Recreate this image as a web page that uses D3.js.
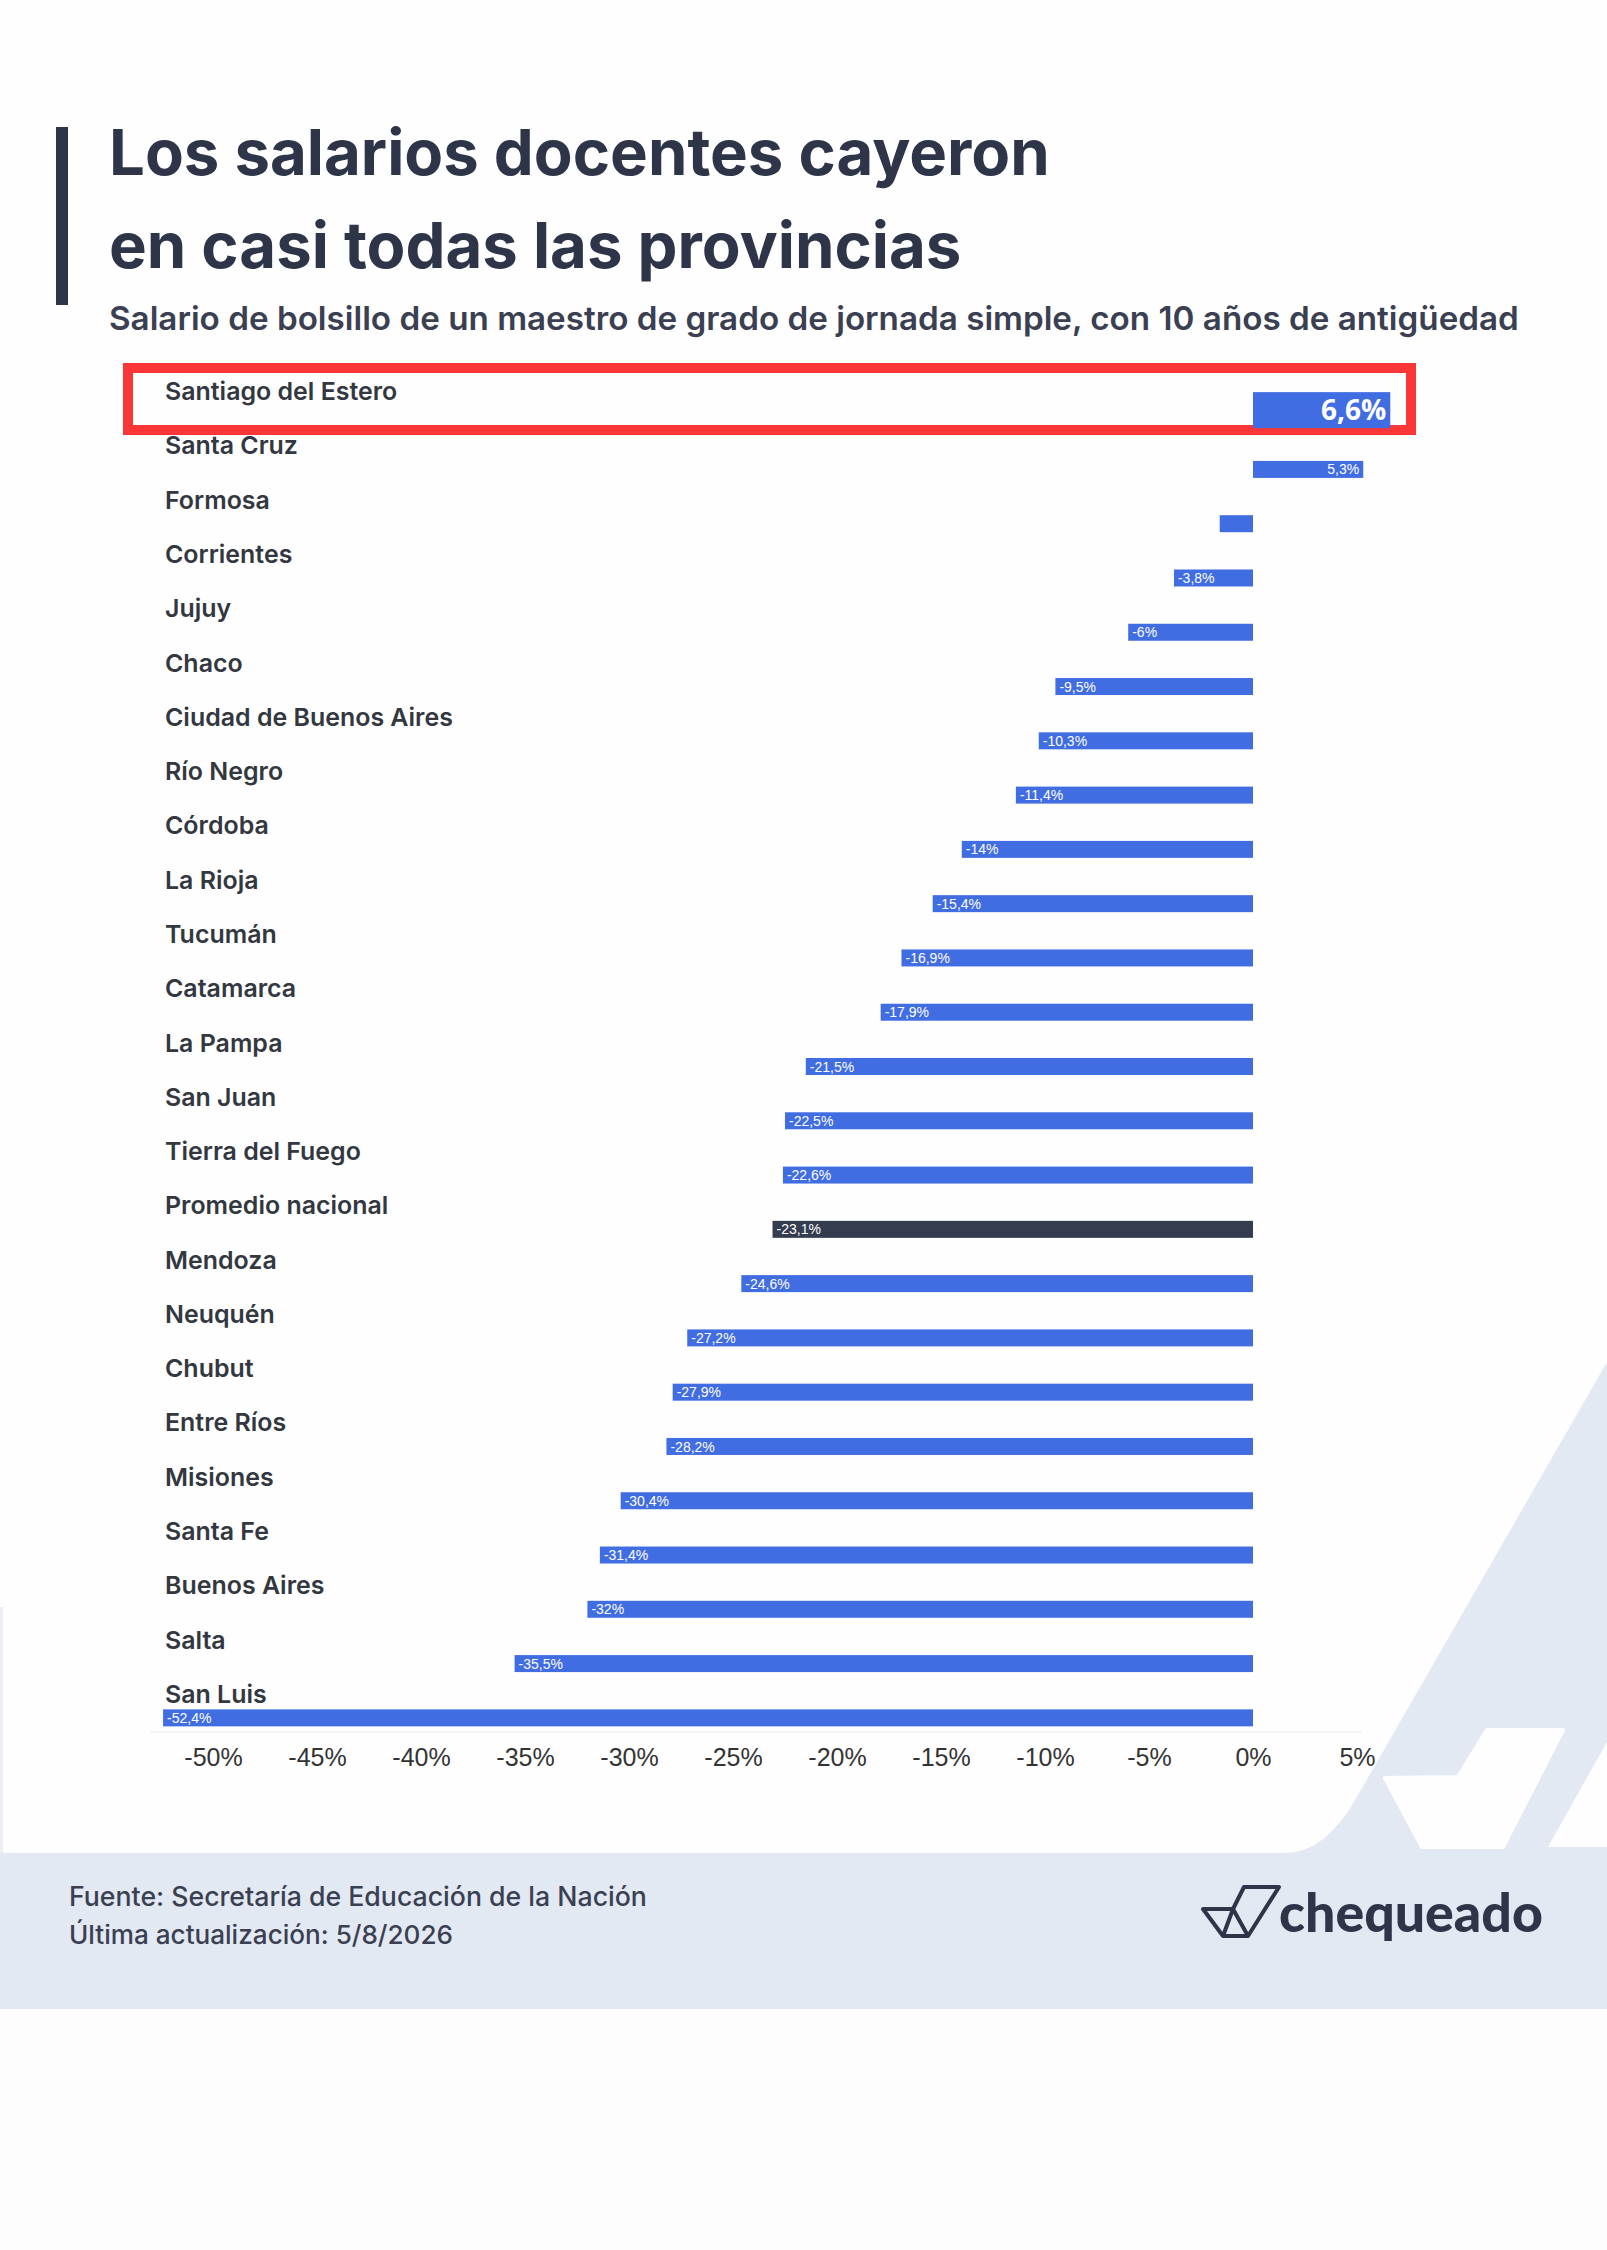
<!DOCTYPE html>
<html>
<head>
<meta charset="utf-8">
<script src="https://cdn.jsdelivr.net/npm/d3@7.9.0/dist/d3.min.js"></script>
<style>
  body { margin: 0; background: #fdfdfd; }
  svg { display: block; }
</style>
</head>
<body>
<div id="chart"></div>
<script>
// provinces, top to bottom
const provinces = [
  "Santiago del Estero", "Santa Cruz", "Formosa", "Corrientes", "Jujuy", "Chaco",
  "Ciudad de Buenos Aires", "Río Negro", "Córdoba", "La Rioja", "Tucumán", "Catamarca",
  "La Pampa", "San Juan", "Tierra del Fuego", "Promedio nacional", "Mendoza", "Neuquén",
  "Chubut", "Entre Ríos", "Misiones", "Santa Fe", "Buenos Aires", "Salta", "San Luis"
];
// real change of the teacher salary, %
const changes = [
  6.6, 5.3, -1.6, -3.8, -6, -9.5,
  -10.3, -11.4, -14, -15.4, -16.9, -17.9,
  -21.5, -22.5, -22.6, -23.1, -24.6, -27.2,
  -27.9, -28.2, -30.4, -31.4, -32, -35.5, -52.4
];
const xTicks = [-50, -45, -40, -35, -30, -25, -20, -15, -10, -5, 0, 5];
const highlighted = "Santiago del Estero";
const average = "Promedio nacional";

const titleLines = ["Los salarios docentes cayeron", "en casi todas las provincias"];
const subtitle = "Salario de bolsillo de un maestro de grado de jornada simple, con 10 años de antigüedad";
const footerLines = ["Fuente: Secretaría de Educación de la Nación", "Última actualización: 5/8/2026"];

const data = provinces.map((p, i) => ({ name: p, value: changes[i] }));

const W = 1607, H = 2250;
const ink = "#2f3548", blue = "#416de3", light = "#e3e9f3";

const svg = d3.select("#chart").append("svg")
  .attr("width", W).attr("height", H);

// shrink/grow a text so it spans a given width
function fit(sel, width) {
  const node = sel.node();
  const size = parseFloat(sel.attr("font-size"));
  const len = node.getComputedTextLength();
  sel.attr("font-size", (size * width / len).toFixed(2));
}

// background: light band + white card with a diagonal cut
svg.append("rect").attr("width", W).attr("height", H).attr("fill", "#fdfdfd");
svg.append("rect").attr("width", W).attr("height", 2009).attr("fill", light);
svg.append("path")
  .attr("d", "M0,0 H1607 V1362 L1358,1795 Q1326,1853 1285,1853 H0 Z")
  .attr("fill", "#fefefe");
svg.append("rect").attr("x", 0).attr("y", 1607).attr("width", 3).attr("height", 246).attr("fill", "#e9edf4");
// watermark check shapes
svg.append("path")
  .attr("d", "M1385,1778 L1458,1777 L1487,1730 L1563,1730 L1503,1847 L1422,1847 Z")
  .attr("fill", "#fefefe").attr("stroke", "#fefefe").attr("stroke-width", 4).attr("stroke-linejoin", "round");
svg.append("path")
  .attr("d", "M1548,1847 L1607,1847 L1607,1742 Z")
  .attr("fill", "#fefefe");

// title block
svg.append("rect").attr("x", 56).attr("y", 127).attr("width", 12).attr("height", 178).attr("fill", ink);
const t1 = svg.append("text").attr("x", 109).attr("y", 175)
  .attr("font-family", "Inter, sans-serif").attr("font-weight", 700).attr("font-size", 60)
  .attr("fill", ink).text(titleLines[0]);
fit(t1, 941);
svg.append("text").attr("x", 109).attr("y", 268)
  .attr("font-family", "Inter, sans-serif").attr("font-weight", 700).attr("font-size", t1.attr("font-size"))
  .attr("fill", ink).text(titleLines[1]);
const st = svg.append("text").attr("x", 109).attr("y", 330)
  .attr("font-family", "Inter, sans-serif").attr("font-weight", 600).attr("font-size", 30)
  .attr("fill", "#3a4052").text(subtitle);
fit(st, 1410);

// scales
const x = d3.scaleLinear().domain([-50, 5]).range([213, 1357]);
const y = d3.scaleBand().domain(provinces).range([388, 1745])
  .paddingInner(0.687).paddingOuter(0.3435);
const bw = y.bandwidth();

// highlight frame
svg.append("rect").attr("x", 128).attr("y", 368).attr("width", 1283).attr("height", 62)
  .attr("fill", "none").attr("stroke", "#fb3636").attr("stroke-width", 10);

// faint baseline
svg.append("line").attr("x1", 150).attr("x2", 1362).attr("y1", 1732).attr("y2", 1732)
  .attr("stroke", "#f4f5f7").attr("stroke-width", 2);

// category labels
const labels = svg.append("g").selectAll("text")
  .data(data).enter().append("text")
  .attr("x", 165)
  .attr("y", d => y(d.name) + bw / 2 - 15)
  .attr("font-family", "Inter, sans-serif").attr("font-weight", 600).attr("font-size", 24)
  .attr("fill", "#333740")
  .text(d => d.name);
const ref = labels.filter(d => d.name === "Ciudad de Buenos Aires");
fit(ref, 288);
labels.attr("font-size", ref.attr("font-size"));

// bars
const barTop = d => d.name === highlighted ? y(d.name) + bw / 2 - 23 : y(d.name);
const barH = d => d.name === highlighted ? 36 : bw;
svg.append("g").selectAll("rect")
  .data(data).enter().append("rect")
  .attr("x", d => x(Math.min(0, d.value)))
  .attr("y", barTop)
  .attr("width", d => Math.abs(x(d.value) - x(0)))
  .attr("height", barH)
  .attr("fill", d => d.name === average ? "#343c50" : blue);

// value labels inside the bars
const fmt = v => String(v).replace(".", ",") + "%";
svg.append("g").selectAll("text")
  .data(data.filter(d => Math.abs(x(d.value) - x(0)) > 40)).enter().append("text")
  .attr("x", d => d.value < 0 ? x(d.value) + 4 : x(d.value) - 4)
  .attr("y", d => barTop(d) + barH(d) / 2)
  .attr("dy", "0.36em")
  .attr("text-anchor", d => d.value < 0 ? "start" : "end")
  .attr("font-family", d => d.name === highlighted ? "'Open Sans', sans-serif" : "'Liberation Sans', Arial, sans-serif")
  .attr("font-weight", d => d.name === highlighted ? 700 : 400)
  .attr("font-size", d => d.name === highlighted ? 28 : 14)
  .attr("fill", "#ffffff")
  .text(d => fmt(d.value));

// x axis
const axis = svg.append("g")
  .attr("transform", "translate(0,1735)")
  .call(d3.axisBottom(x).tickValues(xTicks).tickSize(0).tickPadding(13).tickFormat(d => d + "%"));
axis.select(".domain").remove();
axis.selectAll("text")
  .attr("font-family", "'Liberation Sans', Arial, sans-serif")
  .attr("font-size", 25)
  .attr("fill", "#333");

// footer
footerLines.forEach((line, i) => {
  const ft = svg.append("text").attr("x", 69).attr("y", 1906 + i * 38)
    .attr("font-family", "Inter, sans-serif").attr("font-weight", 500).attr("font-size", 26)
    .attr("fill", "#3a4052").text(line);
  fit(ft, i === 0 ? 578 : 384);
});

// logo
const logo = svg.append("g").attr("fill", "none").attr("stroke", ink)
  .attr("stroke-width", 4).attr("stroke-linejoin", "round");
logo.append("path").attr("d", "M1203,1909 L1233,1909 L1244,1887 L1279,1887 L1248,1936 L1223,1936 Z");
logo.append("path").attr("d", "M1233,1909 L1223,1936 M1233,1909 L1248,1936");
const lt = svg.append("text").attr("x", 1279).attr("y", 1932)
  .attr("font-family", "Lato, sans-serif").attr("font-weight", 900).attr("font-size", 50)
  .attr("fill", ink).text("chequeado");
fit(lt, 264);
</script>
</body>
</html>
